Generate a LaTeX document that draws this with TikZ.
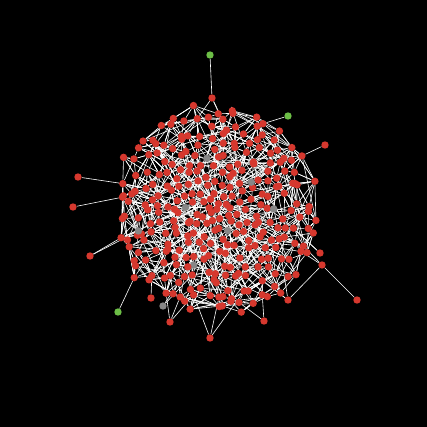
\documentclass[tikz,border=0pt]{standalone}
\pgfdeclarelayer{bgl}\pgfdeclarelayer{edgel}
\pgfsetlayers{bgl,edgel,main}
\definecolor{nred}{RGB}{214,56,46}
\definecolor{ngreen}{RGB}{108,190,70}
\definecolor{ngray}{RGB}{135,135,135}
\tikzset{vtx/.style={circle,inner sep=0pt,minimum size=7.4bp,fill=nred,draw=none},
 lnk/.style={draw=white,line width=0.6bp}}
\def\nvlast{299}
\newcommand\findnear[2]{%
 \xdef\bestd{9999}\xdef\nearidx{0}%
 \foreach \k in {0,...,\nvlast}{%
  \edef\tx{\csname px\k\endcsname}\edef\ty{\csname py\k\endcsname}%
  \pgfmathsetmacro\dd{((\tx-(#1))/10)^2+((\ty-(#2))/10)^2}%
  \pgfmathtruncatemacro\myflag{\dd<\bestd}%
  \ifnum\myflag=1 \xdef\bestd{\dd}\xdef\nearidx{\k}\fi}}
\newcommand\linkto[3]{\findnear{#2}{#3}\draw[lnk] (#1) -- (n\nearidx);}
\begin{document}
\begin{tikzpicture}[x=1bp,y=-1bp]
\begin{pgfonlayer}{bgl}\fill[black] (0,0) rectangle (427,427);\end{pgfonlayer}
\useasboundingbox (0,0) rectangle (427,427);
\pgfmathsetseed{5}
\foreach \i in {0,...,\nvlast}{%
  \pgfmathsetmacro\rr{101*((\i+0.5)/300)^0.58*(1+0.07*rand)}%
  \pgfmathsetmacro\th{360*mod(\i*0.381966,1)+4*rand}%
  \pgfmathsetmacro\xx{216+\rr*cos(\th)+2*rand}%
  \pgfmathsetmacro\yy{211+1.03*\rr*sin(\th)+2*rand}%
  \expandafter\xdef\csname px\i\endcsname{\xx}%
  \expandafter\xdef\csname py\i\endcsname{\yy}%
}
\foreach \gx/\gy in {203/157,181/207,224/234,275/210,194/263,250/175,140/230}{%
  \findnear{\gx}{\gy}\expandafter\gdef\csname isgray\nearidx\endcsname{}}
\foreach \i in {0,...,\nvlast}{%
  \ifcsname isgray\i\endcsname \def\fc{ngray}\else\def\fc{nred}\fi
  \edef\xx{\csname px\i\endcsname}\edef\yy{\csname py\i\endcsname}%
  \node[vtx,fill=\fc] (n\i) at (\xx,\yy) {};
}
% outlying nodes
\node[vtx,fill=ngreen] (e1) at (210,55) {};
\node[vtx] (e2) at (212,98) {};
\node[vtx,fill=ngreen] (e3) at (288,116) {};
\node[vtx] (e4) at (325,145) {};
\node[vtx] (e5) at (78,177) {};
\node[vtx] (e6) at (73,207) {};
\node[vtx] (e7) at (90,256) {};
\node[vtx,fill=ngreen] (e8) at (118,312) {};
\node[vtx] (e9) at (357,300) {};
\node[vtx] (e10) at (322,265) {};
\node[vtx] (e11) at (320,253) {};
\node[vtx] (e12) at (288,300) {};
\node[vtx] (e13) at (210,338) {};
\node[vtx] (e14) at (170,322) {};
\node[vtx,fill=ngray] (e15) at (163,306) {};
\node[vtx] (e16) at (264,321) {};
\node[vtx] (e17) at (151,298) {};
\begin{pgfonlayer}{edgel}
\pgfmathsetseed{12}
\foreach \i in {0,...,\nvlast}{%
  \foreach \m in {1,2,3,4}{%
    \pgfmathtruncatemacro\myoff{round(8*1.618034^random(0,5))}%
    \pgfmathtruncatemacro\myj{(\i+\myoff<300)?(\i+\myoff):(\i-\myoff)}%
    \draw[lnk] (n\i) -- (n\myj);
  }%
}
\foreach \i in {0,5,...,295,2,7,...,297,3,8,...,298}{%
  \pgfmathtruncatemacro\myk{random(0,298)}%
  \pgfmathtruncatemacro\myk{(\myk<\i)?\myk:(\myk+1)}%
  \draw[lnk] (n\i) -- (n\myk);
}
\draw[lnk] (e1) -- (e2);
\draw[lnk] (e9) -- (e10);
\draw[lnk] (e10) -- (e12);
\linkto{e2}{200}{120}\linkto{e2}{225}{125}\linkto{e2}{235}{140}
\linkto{e3}{267}{128}
\linkto{e4}{300}{160}
\linkto{e5}{105}{183}
\linkto{e6}{110}{205}
\linkto{e7}{118}{245}\linkto{e7}{135}{230}
\linkto{e8}{133}{282}
\linkto{e10}{300}{250}\linkto{e10}{305}{240}
\linkto{e11}{300}{232}\linkto{e11}{290}{220}
\linkto{e12}{265}{280}\linkto{e12}{250}{270}\linkto{e12}{275}{260}
\linkto{e13}{200}{300}\linkto{e13}{220}{300}\linkto{e13}{240}{295}
\linkto{e14}{180}{290}\linkto{e14}{200}{295}\linkto{e14}{160}{290}
\linkto{e15}{175}{280}\linkto{e15}{190}{275}
\linkto{e16}{255}{295}\linkto{e16}{240}{300}
\linkto{e17}{150}{275}
\end{pgfonlayer}
\end{tikzpicture}
\end{document}
